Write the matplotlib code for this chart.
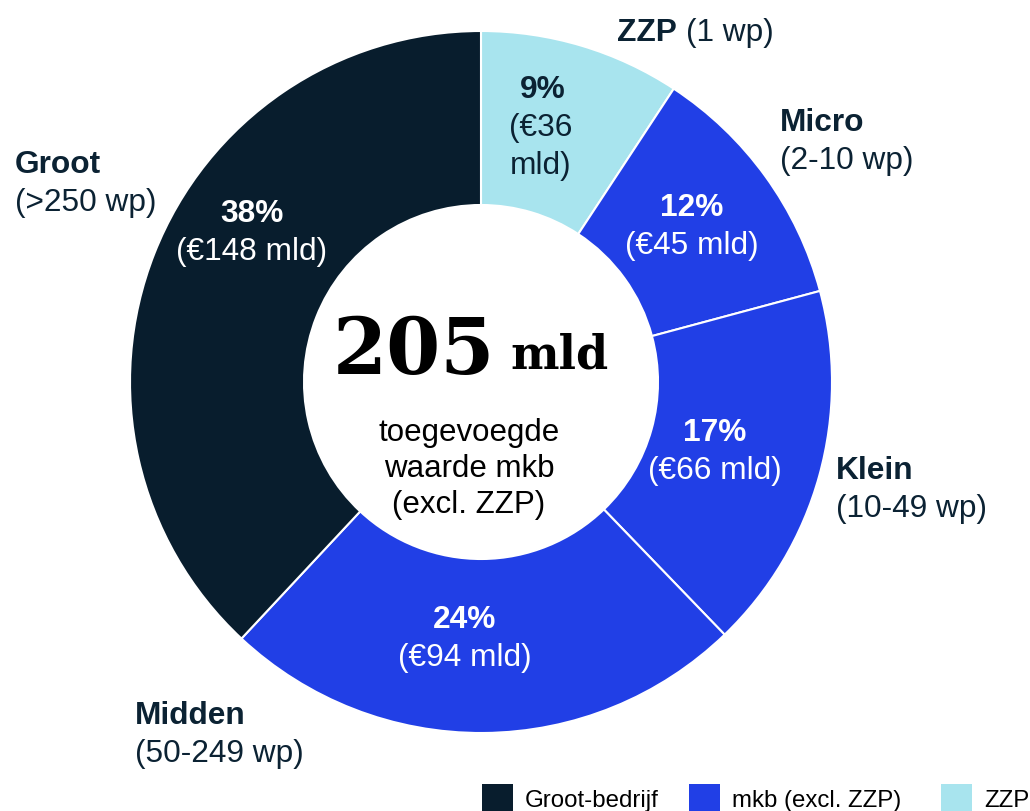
import matplotlib
matplotlib.use("Agg")
import matplotlib.pyplot as plt
from matplotlib.patches import Rectangle

# ---- data ----
segments = ["ZZP", "Micro", "Klein", "Midden", "Groot"]
values = [36, 45, 66, 94, 148]          # € mld
groups = ["ZZP", "mkb", "mkb", "mkb", "Groot"]
size_labels = ["(1 wp)", "(2-10 wp)", "(10-49 wp)", "(50-249 wp)", "(>250 wp)"]
legend_labels = ["Groot-bedrijf", "mkb (excl. ZZP)", "ZZP"]
center_total = "205"
center_unit = "mld"
center_caption = "toegevoegde\nwaarde mkb\n(excl. ZZP)"

# ---- style ----
NAVY = "#081D2D"
BLUE = "#213FE6"
CYAN = "#A8E4EE"
TEXT = "#0B2233"
group_color = {"Groot": NAVY, "mkb": BLUE, "ZZP": CYAN}
colors = [group_color[g] for g in groups]

W, H = 1030, 812
fig = plt.figure(figsize=(W / 100, H / 100), dpi=100)
ax = fig.add_axes([0, 0, 1, 1])

def Y(ypix):
    return H - ypix

cx, cy, R, hole = 481, Y(383), 351, 177
ax.pie(values, colors=colors, startangle=90, counterclock=False,
       center=(cx, cy), radius=R, frame=True,
       wedgeprops=dict(width=R - hole, edgecolor="white", linewidth=1.5))
ax.set_xlim(0, W)
ax.set_ylim(0, H)
ax.set_aspect("equal")
ax.axis("off")

total = sum(values)
FS = 22.8
sans = "Liberation Sans"

# inner labels (position layout per segment)
inner_pos = {"ZZP": (543, 90), "Micro": (692, 208), "Klein": (715, 433),
             "Midden": (465, 620), "Groot": (252, 214)}
for seg, v in zip(segments, values):
    x, y = inner_pos[seg]
    pct = f"{round(100 * v / total)}%"
    txtcol = "white" if seg != "ZZP" else TEXT
    ax.text(x, Y(y), pct, ha="center", va="center", fontsize=FS,
            fontweight="bold", color=txtcol, family=sans)
    if seg == "ZZP":
        ax.text(x - 2, Y(y + 38), f"(€{v}", ha="center", va="center",
                fontsize=FS, color=txtcol, family=sans)
        ax.text(x - 2, Y(y + 76), "mld)", ha="center", va="center",
                fontsize=FS, color=txtcol, family=sans)
    else:
        ax.text(x, Y(y + 38), f"(€{v} mld)", ha="center", va="center",
                fontsize=FS, color=txtcol, family=sans)

# outer labels
outer_pos = {"Micro": (780, 123), "Klein": (836, 471),
             "Midden": (135, 716), "Groot": (15, 165)}
for seg, sl in zip(segments, size_labels):
    if seg == "ZZP":
        ax.text(617, Y(33), seg, ha="left", va="center", fontsize=FS,
                fontweight="bold", color=TEXT, family=sans)
        ax.text(686, Y(33), sl, ha="left", va="center", fontsize=FS,
                color=TEXT, family=sans)
        continue
    x, y = outer_pos[seg]
    ax.text(x, Y(y), seg, ha="left", va="center", fontsize=FS,
            fontweight="bold", color=TEXT, family=sans)
    ax.text(x, Y(y + 38), sl, ha="left", va="center", fontsize=FS,
            color=TEXT, family=sans)

# centre text
ax.text(495, Y(352), center_total, ha="right", va="center", fontsize=56,
        fontweight="bold", color="black", family="DejaVu Serif")
ax.text(510, Y(356), center_unit, ha="left", va="center", fontsize=33,
        fontweight="bold", color="black", family="DejaVu Serif")
ax.text(469, Y(469), center_caption, ha="center", va="center", fontsize=22.5,
        color="black", family=sans, linespacing=1.26)

# legend
leg_x = [482, 689, 941]
for lx, lab, col in zip(leg_x, legend_labels, [NAVY, BLUE, CYAN]):
    ax.add_patch(Rectangle((lx, Y(816)), 31, 31, facecolor=col, edgecolor="none",
                           clip_on=False))
    ax.text(lx + 43, Y(801), lab, ha="left", va="center", fontsize=17.3,
            color="black", family=sans)

fig.savefig("out.png", dpi=100)
